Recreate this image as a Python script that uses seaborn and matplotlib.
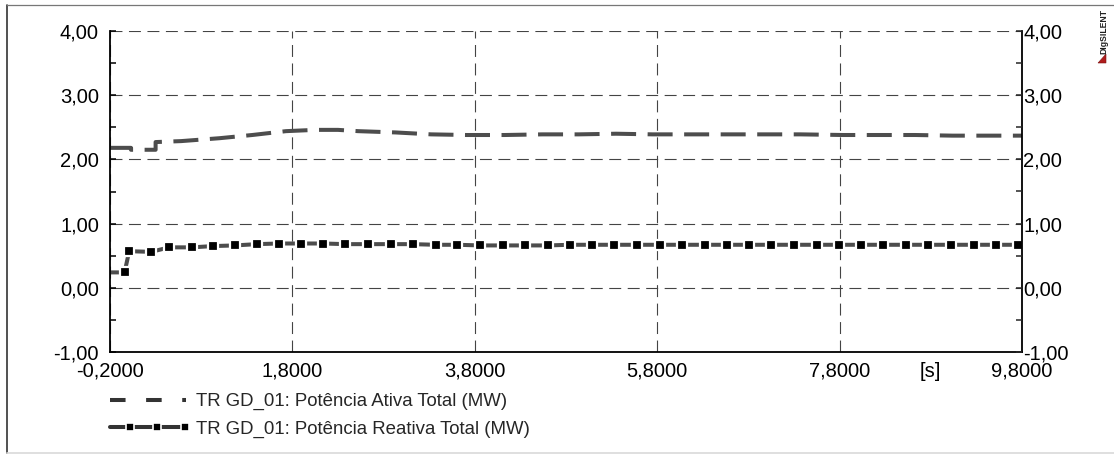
import matplotlib
matplotlib.use("Agg")
import matplotlib.pyplot as plt
import seaborn as sns
from matplotlib.lines import Line2D
from matplotlib.patches import Polygon
from matplotlib.legend_handler import HandlerBase

# ---------------- data ----------------
p_time = [-0.2, 0.03, 0.03, 0.30, 0.30, 0.58, 1.00, 1.36, 1.73, 2.05, 2.30, 2.52,
          2.93, 3.32, 3.71, 4.13, 4.54, 4.94, 5.35, 5.75, 6.16, 6.57, 6.98, 7.37,
          7.84, 8.22, 8.63, 9.04, 9.45, 9.80]
p_values = [2.18, 2.18, 2.15, 2.15, 2.27, 2.285, 2.33, 2.38, 2.44, 2.46, 2.46, 2.44,
            2.42, 2.39, 2.38, 2.38, 2.39, 2.39, 2.40, 2.39, 2.39, 2.39, 2.39, 2.39,
            2.38, 2.38, 2.38, 2.37, 2.37, 2.37]

q_time = [-0.2, -0.04, 0.01, 0.25, 0.45, 0.70, 0.93, 1.17, 1.41, 1.65, 1.89, 2.14,
          2.38, 2.63, 2.88, 3.12, 3.37, 3.61, 3.86, 4.11, 4.35, 4.60, 4.84, 5.09,
          5.33, 5.58, 5.83, 6.07, 6.32, 6.56, 6.81, 7.05, 7.30, 7.55, 7.79, 8.04,
          8.28, 8.53, 8.77, 9.02, 9.27, 9.51, 9.76, 9.80]
q_values = [0.24, 0.24, 0.57, 0.56, 0.63, 0.63, 0.65, 0.66, 0.68, 0.69, 0.69, 0.69,
            0.68, 0.68, 0.68, 0.68, 0.67, 0.67, 0.66, 0.66, 0.66, 0.66, 0.67, 0.67,
            0.67, 0.67, 0.67, 0.67, 0.67, 0.67, 0.67, 0.67, 0.67, 0.67, 0.67, 0.67,
            0.67, 0.67, 0.67, 0.67, 0.67, 0.67, 0.67, 0.67]

x_ticks = [-0.2, 1.8, 3.8, 5.8, 7.8, 9.8]
x_tick_labels = ["-0,2000", "1,8000", "3,8000", "5,8000", "7,8000", "9,8000"]
x_minor = [0.8, 2.8, 4.8, 6.8, 8.8]
x_minor_labels = ["", "", "", "", "[s]"]
y_ticks = [-1, 0, 1, 2, 3, 4]
y_tick_labels = ["-1,00", "0,00", "1,00", "2,00", "3,00", "4,00"]
y_minor = [-0.5, 0.5, 1.5, 2.5, 3.5]
series_labels = ["TR GD_01: Potência Ativa Total (MW)",
                 "TR GD_01: Potência Reativa Total (MW)"]

# ---------------- style ----------------
sns.set_style("white")
plt.rcParams["font.family"] = ["Liberation Sans", "DejaVu Sans"]
plt.rcParams["lines.scale_dashes"] = False

W, H = 1114, 454
fig = plt.figure(figsize=(W / 100, H / 100), dpi=100)
ax = fig.add_axes([0.1, 0.2, 0.8, 0.7])

tick_fs = 14.5
leg_fs = 13.4
line_col = "#4d4d4d"
p_dash = (0, (18, 8.3))
lw = 2.9
q_style = dict(color=line_col, linewidth=lw, linestyle="-", marker="s",
               markersize=7.6, markerfacecolor="black", markeredgecolor="white",
               markeredgewidth=1.6)

sns.lineplot(x=p_time, y=p_values, ax=ax, estimator=None, sort=False,
             color=line_col, linewidth=lw, linestyle=p_dash, legend=False)
sns.lineplot(x=q_time, y=q_values, ax=ax, estimator=None, sort=False,
             markevery=list(range(1, len(q_time) - 1)), legend=False, **q_style)

ax.set_xlim(-0.2, 9.8)
ax.set_ylim(-1, 4)
ax.set_xticks(x_ticks, labels=x_tick_labels)
ax.set_xticks(x_minor, labels=x_minor_labels, minor=True)
ax.set_yticks(y_ticks, labels=y_tick_labels)
ax.set_yticks(y_minor, minor=True)
ax.set_xlabel("")
ax.set_ylabel("")

ax.grid(True, which="major", color="#444444", linewidth=0.8,
        linestyle=(0, (8.6, 4.7)))
ax.tick_params(axis="both", which="both", direction="in", length=4.5, width=1.1,
               color="black", labelsize=tick_fs, labelcolor="black")
ax.tick_params(axis="x", which="both", pad=7)
ax.tick_params(axis="y", which="both", left=True, right=False, pad=8)

for s in ["left", "right", "bottom"]:
    ax.spines[s].set_visible(True)
    ax.spines[s].set_color("black")
    ax.spines[s].set_linewidth(1.3)
ax.spines["top"].set_visible(False)

ax2 = ax.twinx()
ax2.set_ylim(-1, 4)
ax2.set_yticks(y_ticks, labels=y_tick_labels)
ax2.set_yticks(y_minor, minor=True)
ax2.tick_params(axis="y", which="both", direction="in", length=4.5, width=1.1,
                right=True, left=False, labelright=True, labelleft=False,
                pad=1, labelsize=tick_fs, labelcolor="black")
for s in ax2.spines.values():
    s.set_visible(False)
ax2.grid(False)

pos = [110 / W, 1 - 352 / H, (1022 - 110) / W, (352 - 31) / H]
ax.set_position(pos)
ax2.set_position(pos)


# legend handle: line across the full handle, markers at chosen fractions
class MarkedLineHandler(HandlerBase):
    def __init__(self, fractions, **kw):
        super().__init__(**kw)
        self.fractions = fractions

    def create_artists(self, legend, orig_handle, xdescent, ydescent,
                       width, height, fontsize, trans):
        y = (height - ydescent) / 2
        x0 = -xdescent
        line = Line2D([x0, x0 + width], [y, y])
        line.update_from(orig_handle)
        line.set_marker("None")
        line.set_color("#333333")
        xs = [x0 + f * width for f in self.fractions]
        marks = Line2D(xs, [y] * len(xs))
        marks.update_from(orig_handle)
        marks.set_linestyle("None")
        marks.set_markersize(5.6)
        marks.set_markeredgewidth(1.2)
        for a in (line, marks):
            a.set_transform(trans)
        return [line, marks]


h1 = Line2D([], [], color="#333333", linewidth=lw, linestyle=(0, (11.2, 14.8)))
h2 = Line2D([], [], **q_style)
fig.legend([h1, h2], series_labels, loc="center left",
           bbox_to_anchor=(110 / W, 1 - 415.5 / H), frameon=False,
           fontsize=leg_fs, handlelength=4.1, handletextpad=0.5,
           labelspacing=0.55, borderpad=0, borderaxespad=0,
           handler_map={h2: MarkedLineHandler([0.26, 0.62, 0.985])})

# figure frame
fig.add_artist(Line2D([7 / W, 7 / W], [1 - 5 / H, 1 - 453 / H],
                      transform=fig.transFigure, color="#333333", linewidth=1.2))
fig.add_artist(Line2D([7 / W, 1.0], [1 - 4.7 / H, 1 - 4.7 / H],
                      transform=fig.transFigure, color="#777777", linewidth=0.9))
fig.add_artist(Line2D([7 / W, 1.0], [1 - 453 / H, 1 - 453 / H],
                      transform=fig.transFigure, color="#d9d9d9", linewidth=1.2))

# logo
fig.text(1104 / W, 1 - 31 / H, "DIgSILENT", rotation=90, fontsize=6.2,
         fontweight="bold", ha="center", va="center", color="#222222")
fig.add_artist(Polygon([[1098 / W, 1 - 63 / H], [1106 / W, 1 - 54 / H],
                        [1106 / W, 1 - 63 / H]], closed=True,
                       transform=fig.transFigure, facecolor="#b01c1c",
                       edgecolor="#7a1010", linewidth=0.4))

fig.savefig("out.png", dpi=100)
